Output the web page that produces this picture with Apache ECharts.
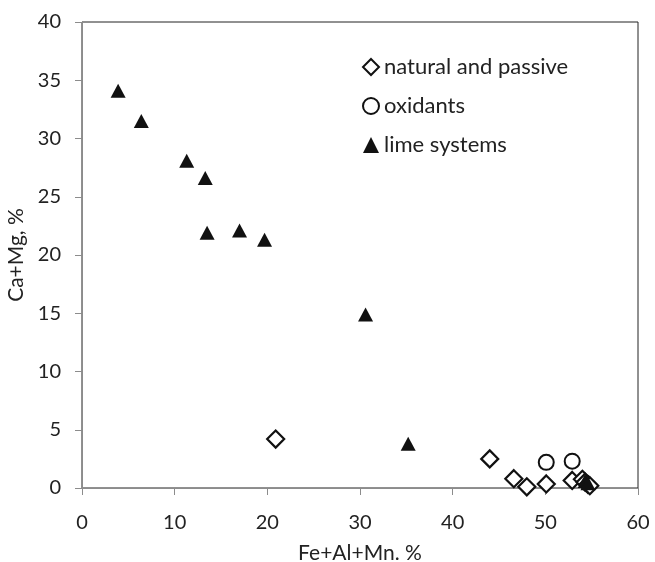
<!DOCTYPE html>
<html>
<head>
<meta charset="utf-8">
<script src="https://cdn.jsdelivr.net/npm/echarts@6/dist/echarts.min.js"></script>
<style>
  html, body { margin: 0; padding: 0; background: #fff; }
  #myChart { width: 655px; height: 562px; }
</style>
</head>
<body>
<div id="myChart"></div>
<script>
// values: [Fe+Al+Mn, Ca+Mg]
const naturalPassive = [[20.9, 4.2], [44.0, 2.5], [46.6, 0.8], [48.0, 0.1], [50.1, 0.35], [52.9, 0.65], [54.0, 0.75], [54.3, 0.5], [54.6, 0.3], [54.8, 0.2]]
const oxidants = [[50.1, 2.2], [52.9, 2.3]]
const limeSystems = [[3.9, 34.1], [6.4, 31.5], [11.3, 28.1], [13.3, 26.6], [13.5, 21.9], [17.0, 22.1], [19.7, 21.3], [30.6, 14.9], [35.2, 3.8], [54.3, 0.6], [54.6, 0.4]]
const xTicks = [0, 10, 20, 30, 40, 50, 60]
const yTicks = [0, 5, 10, 15, 20, 25, 30, 35, 40]

const font = 'Lato, "Open Sans", sans-serif'
const chart = echarts.init(document.getElementById('myChart'))

const axisCommon = {
  axisLine: { show: true, onZero: false, lineStyle: { color: '#8c8c8c', width: 1 } },
  axisTick: { show: true, inside: false, length: 7, lineStyle: { color: '#8c8c8c' } },
  axisLabel: { color: '#222', fontSize: 20, fontFamily: font },
  splitLine: { show: false },
  nameLocation: 'middle',
  nameTextStyle: { color: '#222', fontSize: 21, fontFamily: font }
}

const options = {
  animation: false,
  backgroundColor: '#fff',
  grid: {
    left: 82, top: 22, right: 17, bottom: 74,
    outerBoundsMode: 'none', containLabel: false,
    show: true, borderColor: '#222', borderWidth: 1, backgroundColor: 'transparent'
  },
  xAxis: Object.assign({}, axisCommon, {
    type: 'value', min: xTicks[0], max: xTicks[xTicks.length - 1], interval: 10,
    name: 'Fe+Al+Mn. %', nameGap: 55,
    axisLabel: Object.assign({}, axisCommon.axisLabel, { margin: 25 })
  }),
  yAxis: Object.assign({}, axisCommon, {
    type: 'value', min: yTicks[0], max: yTicks[yTicks.length - 1], interval: 5,
    name: 'Ca+Mg, %', nameGap: 49,
    axisLabel: Object.assign({}, axisCommon.axisLabel, { margin: 21 })
  }),
  legend: {
    orient: 'vertical', left: 357, top: 51, itemGap: 17,
    itemWidth: 16, itemHeight: 16,
    textStyle: { color: '#222', fontSize: 22, fontFamily: font, padding: [0, 0, 0, 0] },
    data: [
      { name: 'natural and passive', icon: 'diamond', itemStyle: { color: '#fff', borderColor: '#111', borderWidth: 2 } },
      { name: 'oxidants', icon: 'circle', itemStyle: { color: '#fff', borderColor: '#111', borderWidth: 2 } },
      { name: 'lime systems', icon: 'triangle', itemStyle: { color: '#111' } }
    ]
  },
  series: [
    {
      name: 'natural and passive', type: 'scatter', data: naturalPassive,
      symbol: 'diamond', symbolSize: 17,
      itemStyle: { color: '#fff', borderColor: '#111', borderWidth: 2.2, opacity: 1 }
    },
    {
      name: 'oxidants', type: 'scatter', data: oxidants,
      symbol: 'circle', symbolSize: 15,
      itemStyle: { color: '#fff', borderColor: '#111', borderWidth: 2, opacity: 1 }
    },
    {
      name: 'lime systems', type: 'scatter', data: limeSystems,
      symbol: 'triangle', symbolSize: [15, 14],
      itemStyle: { color: '#111', opacity: 1 }
    }
  ]
}

chart.setOption(options)
</script>
</body>
</html>
